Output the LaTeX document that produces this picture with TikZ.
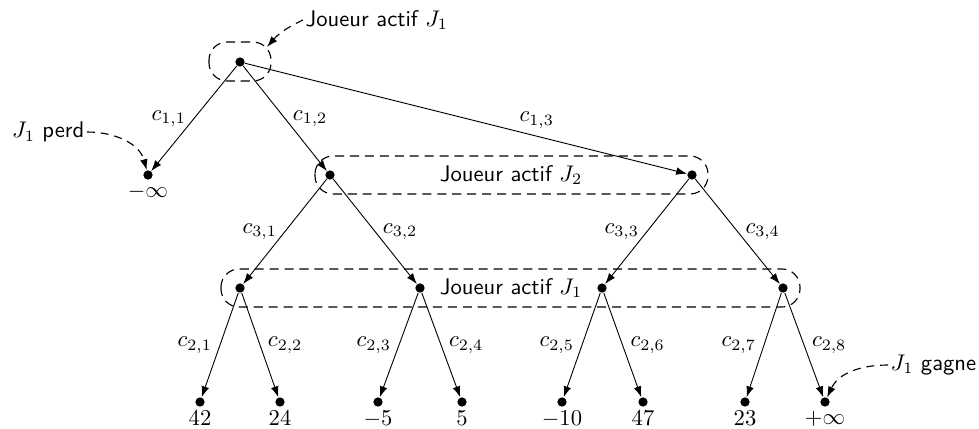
\documentclass[tikz,border=0pt]{standalone}
\usetikzlibrary{arrows.meta}
\begin{document}
\begin{tikzpicture}[x=0.442pt,y=-0.442pt,
  dot/.style={circle,fill,inner sep=0pt,minimum size=4.1pt},
  edge/.style={-{Latex[length=4.8pt,width=3.4pt]}},
  grp/.style={draw,line width=0.5pt,dash pattern=on 4pt off 2.6pt,rounded corners=8pt},
  ann/.style={line width=0.5pt,dash pattern=on 3.5pt off 2.6pt,-{Latex[length=4.8pt,width=3.4pt]}},
  lab/.style={font=\sffamily},
  val/.style={label={[label distance=-1.8pt]below:#1}}]
\useasboundingbox (0,0) rectangle (979,428);

% group boxes
\draw[grp] (209,42) rectangle (271,81);
\draw[grp] (315,156) rectangle (708,194);
\draw[grp] (221,269) rectangle (800,307);

% nodes
\node[dot] (r) at (240,62) {};
\node[dot,val={$-\infty$}] (m) at (148,175) {};
\node[dot] (a) at (330,175) {};
\node[dot] (b) at (692,175) {};
\node[dot] (a1) at (240,288) {};
\node[dot] (a2) at (420,288) {};
\node[dot] (b1) at (602,288) {};
\node[dot] (b2) at (783,288) {};
\node[dot,val={$42$}] (l1) at (200,402) {};
\node[dot,val={$24$}] (l2) at (280,402) {};
\node[dot,val={$-5$}] (l3) at (378,402) {};
\node[dot,val={$5$}] (l4) at (462,402) {};
\node[dot,val={$-10$}] (l5) at (562,402) {};
\node[dot,val={$47$}] (l6) at (643,402) {};
\node[dot,val={$23$}] (l7) at (745,402) {};
\node[dot,val={$+\infty$}] (l8) at (825,402) {};

% box labels
\node[lab] (t2) at (511,175) {Joueur actif $J_2$};
\node[lab] (t3) at (511,288) {Joueur actif $J_1$};

% edges
\draw[edge] (r) -- node[left] {$c_{1,1}$} (m);
\draw[edge] (r) -- node[right] {$c_{1,2}$} (a);
\draw[edge] (r) -- node[above,pos=0.66] {$c_{1,3}$} (b);
\draw[edge] (a) -- node[left] {$c_{3,1}$} (a1);
\draw[edge] (a) -- node[right] {$c_{3,2}$} (a2);
\draw[edge] (b) -- node[left] {$c_{3,3}$} (b1);
\draw[edge] (b) -- node[right] {$c_{3,4}$} (b2);
\draw[edge] (a1) -- node[left] {$c_{2,1}$} (l1);
\draw[edge] (a1) -- node[right] {$c_{2,2}$} (l2);
\draw[edge] (a2) -- node[left] {$c_{2,3}$} (l3);
\draw[edge] (a2) -- node[right] {$c_{2,4}$} (l4);
\draw[edge] (b1) -- node[left] {$c_{2,5}$} (l5);
\draw[edge] (b1) -- node[right] {$c_{2,6}$} (l6);
\draw[edge] (b2) -- node[left] {$c_{2,7}$} (l7);
\draw[edge] (b2) -- node[right] {$c_{2,8}$} (l8);

% annotations
\node[lab,anchor=west,inner sep=1pt] (tj) at (303,20) {Joueur actif $J_1$};
\coordinate (tjend) at (267,47);
\draw[ann] (tj.west) to[bend right=12] (tjend);

\node[lab,anchor=east,inner sep=1pt] (perd) at (87,132) {$J_1$ perd};
\draw[ann] (perd.east) to[out=0,in=105] (m);

\node[lab,anchor=west,inner sep=1pt] (gagne) at (888,365) {$J_1$ gagne};
\draw[ann] (gagne.west) to[out=180,in=65] (l8);
\end{tikzpicture}
\end{document}
